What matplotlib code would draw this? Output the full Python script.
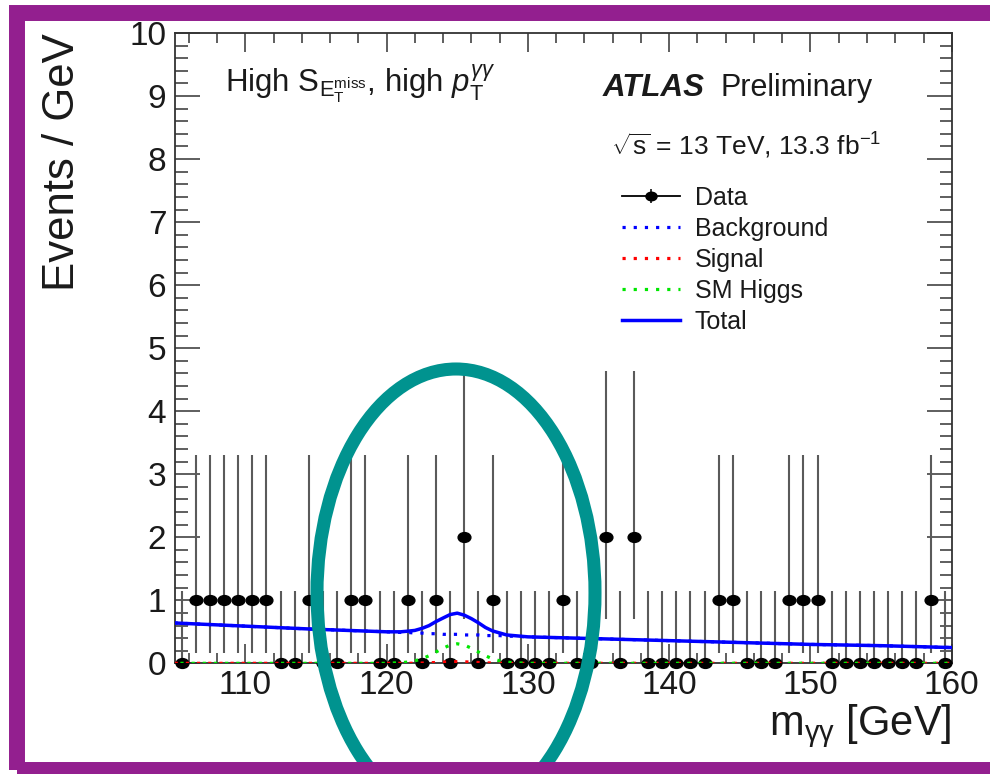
import numpy as np
import matplotlib
matplotlib.use('Agg')
import matplotlib.pyplot as plt
from matplotlib.lines import Line2D
from matplotlib.patches import Ellipse, Rectangle
from matplotlib.path import Path
from matplotlib.ticker import MultipleLocator

plt.rcParams['font.family'] = ['Liberation Sans', 'DejaVu Sans']
plt.rcParams['mathtext.fontset'] = 'custom'
plt.rcParams['mathtext.rm'] = 'Liberation Sans'
plt.rcParams['mathtext.it'] = 'Liberation Sans:italic'
plt.rcParams['mathtext.bf'] = 'Liberation Sans:bold'

# diphoton events in 1 GeV bins from 105 to 160 GeV
bin_low = np.arange(105, 160)
counts = [0, 1, 1, 1, 1, 1, 1, 0, 0, 1,
          0, 0, 1, 1, 0, 0, 1, 0, 1, 0,
          2, 0, 1, 0, 0, 0, 0, 1, 0, 0,
          2, 0, 2, 0, 0, 0, 0, 0, 1, 1,
          0, 0, 0, 1, 1, 1, 0, 0, 0, 0,
          0, 0, 0, 1, 0]

# Poisson error bars for the observed counts
err_down = {0: 0.0, 1: 0.83, 2: 1.29}
err_up = {0: 1.15, 1: 2.30, 2: 2.64}

# fit components sampled along m_yy
m_curve = [105, 110, 115, 120, 121, 121.5, 122, 122.5, 123, 123.5, 124, 124.5,
           125, 125.5, 126, 126.5, 127, 127.5, 128, 128.5, 129, 130,
           135, 140, 145, 150, 155, 160]
background = [0.64, 0.59, 0.54, 0.50, 0.49, 0.49, 0.48, 0.48, 0.47, 0.47, 0.46, 0.46,
              0.46, 0.45, 0.45, 0.45, 0.44, 0.44, 0.44, 0.43, 0.43, 0.42,
              0.39, 0.36, 0.33, 0.30, 0.28, 0.25]
sm_higgs = [0, 0, 0, 0, 0.01, 0.02, 0.04, 0.07, 0.12, 0.18, 0.24, 0.29,
            0.31, 0.29, 0.24, 0.18, 0.12, 0.07, 0.04, 0.02, 0.01, 0,
            0, 0, 0, 0, 0, 0]
signal = [0, 0, 0, 0, 0, 0, 0.002, 0.004, 0.008, 0.013, 0.019, 0.024,
          0.026, 0.024, 0.019, 0.013, 0.008, 0.004, 0.002, 0, 0, 0,
          0, 0, 0, 0, 0, 0]

legend_labels = ['Data', 'Background', 'Signal', 'SM Higgs', 'Total']


def data_marker():
    # ROOT-style filled dot, a little wider than tall
    circle = Path.unit_circle()
    return Path(circle.vertices * np.array([1.3, 1.0]), circle.codes)


def main():
    centers = bin_low + 0.5
    lo = [err_down[c] for c in counts]
    hi = [err_up[c] for c in counts]
    total = np.array(background) + np.array(sm_higgs) + np.array(signal)

    fig = plt.figure(figsize=(9.9, 7.74), dpi=100)
    ax = fig.add_axes([0.1764, 0.1430, 0.7850, 0.8143])

    dot = data_marker()
    dotted = (0, (1, 2.5))
    green = '#00e600'

    ax.errorbar(centers, counts, yerr=[lo, hi], fmt='none', ecolor='#5a5a5a',
                elinewidth=1.5, capsize=0, zorder=2)
    ax.plot(centers, counts, ls='none', marker=dot, ms=9.2, color='k', zorder=3,
            clip_on=False)

    ax.plot(m_curve, background, color='#0000ff', ls=dotted, lw=2.3, zorder=4)
    ax.plot(m_curve, signal, color='#ff0000', ls=dotted, lw=2.3, zorder=4)
    ax.plot(m_curve, sm_higgs, color=green, ls=(1.7, (1, 2.5)), lw=2.3, zorder=4)
    ax.plot(m_curve, total, color='#0000ff', lw=2.5, zorder=5)

    ax.set_xlim(105, 160)
    ax.set_ylim(0, 10)
    ax.xaxis.set_major_locator(MultipleLocator(10))
    ax.xaxis.set_minor_locator(MultipleLocator(2))
    ax.yaxis.set_major_locator(MultipleLocator(1))
    ax.yaxis.set_minor_locator(MultipleLocator(0.2))
    ax.tick_params(which='both', direction='in', top=True, right=True,
                   labelsize=24, color='#333333', labelcolor='#1a1a1a')
    ax.tick_params(axis='x', which='major', length=14, width=1.1, pad=5)
    ax.tick_params(axis='x', which='minor', length=7, width=1.1)
    ax.tick_params(axis='y', which='major', length=18, width=1.1, pad=6)
    ax.tick_params(axis='y', which='minor', length=9, width=1.1)
    for spine in ax.spines.values():
        spine.set_linewidth(1.3)
        spine.set_color('#333333')

    ax.set_xlabel(r'm$_{\mathrm{\gamma\gamma}}$ [GeV]', fontsize=30, loc='right',
                  color='#1a1a1a')
    ax.xaxis.set_label_coords(1.0, -0.062)
    ax.xaxis.label.set_va('top')
    ax.set_ylabel('Events / GeV', fontsize=31.5, loc='top', color='#1a1a1a')
    ax.yaxis.set_label_coords(-0.118, 1.0)

    ax.text(0.065, 0.906,
            r'High S$_{\mathrm{E}_{\mathrm{T}}^{\mathrm{miss}}}$, high $p_{\mathrm{T}}^{\gamma\gamma}$',
            transform=ax.transAxes, fontsize=22.5, va='baseline', color='#1a1a1a')
    ax.text(0.551, 0.900, 'ATLAS', transform=ax.transAxes, fontsize=22.5,
            fontweight='bold', style='italic', va='baseline', color='#1a1a1a')
    ax.text(0.702, 0.900, 'Preliminary', transform=ax.transAxes, fontsize=22,
            va='baseline', color='#1a1a1a')
    ax.text(0.561, 0.806, r'$\sqrt{\mathrm{s}}$ = 13 TeV, 13.3 fb$^{-1}$',
            transform=ax.transAxes, fontsize=19, va='baseline', color='#1a1a1a')

    handles = [
        (Line2D([], [], color='k', lw=1.3),
         Line2D([], [], color='k', ls='none', marker='|', ms=10, mew=1.1),
         Line2D([], [], color='k', ls='none', marker=dot, ms=8)),
        Line2D([], [], color='#0000ff', ls=dotted, lw=2.3),
        Line2D([], [], color='#ff0000', ls=dotted, lw=2.3),
        Line2D([], [], color=green, ls=dotted, lw=2.3),
        Line2D([], [], color='#0000ff', lw=2.5),
    ]
    leg = ax.legend(handles, legend_labels, loc='upper left',
                    bbox_to_anchor=(0.5757, 0.757), frameon=False, fontsize=18,
                    handlelength=2.3, handletextpad=0.6, labelspacing=0.28,
                    borderpad=0, borderaxespad=0)
    for txt in leg.get_texts():
        txt.set_color('#1a1a1a')

    # highlight ring around the 125 GeV region
    ring = Ellipse((456 / 990, 1 - 593 / 774), 278 / 990, 448 / 774,
                   transform=fig.transFigure, fill=False, edgecolor='#00938f',
                   lw=9.4, zorder=10)
    fig.add_artist(ring)

    # purple frame, open past the right edge
    frame = Rectangle((17 / 990, 1 - 770 / 774), 1000 / 990, 757 / 774,
                      transform=fig.transFigure, fill=False, edgecolor='#931f8f',
                      lw=11.5, zorder=11)
    fig.add_artist(frame)

    fig.savefig('out.png', dpi=100)


if __name__ == '__main__':
    main()
